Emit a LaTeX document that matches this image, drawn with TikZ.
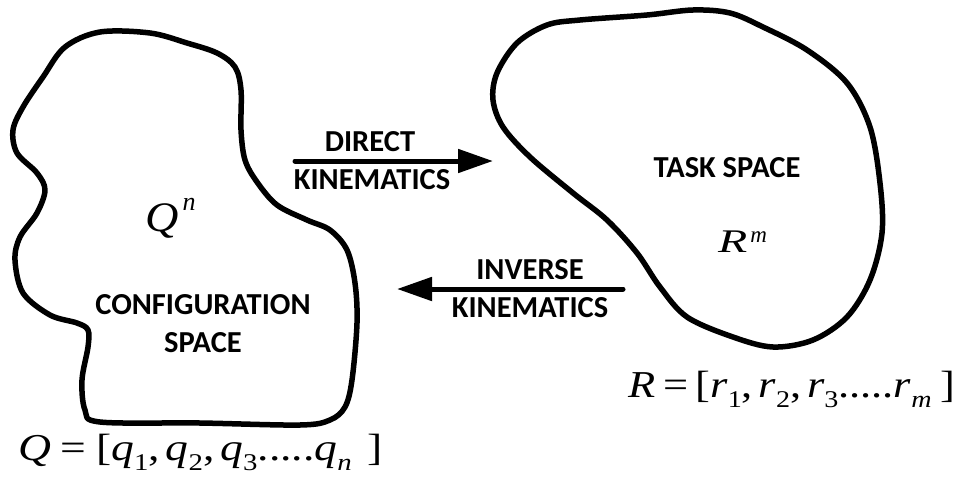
\documentclass[tikz,border=0pt]{standalone}
\usepackage{fontspec}
\usepackage{graphicx}
\newfontfamily\kinfont{Carlito}
\newfontfamily\symfont{Liberation Serif}
\usetikzlibrary{arrows.meta}
\newcommand\lo[1]{\raisebox{-10pt}{\fontsize{24}{24}\selectfont\upshape #1}}

\begin{document}
\begin{tikzpicture}[x=1pt,y=-1pt,
  blob/.style={line width=5.5pt,line join=round},
  kin/.style={font=\kinfont\bfseries\fontsize{30.5}{38}\selectfont,align=center,inner sep=0pt},
  sym/.style={font=\symfont,inner sep=0pt,anchor=base west},
  bigarrow/.style={line width=5pt,line cap=round,-{Triangle[length=35pt,width=23pt]}}]
\useasboundingbox (0,0) rectangle (961,477);

% configuration space
\draw[blob] plot[smooth cycle,tension=0.55] coordinates {
  (65,47) (100,32) (150,33) (187,43) (217,53) (235,67) (241,90) (241,130)
  (245,160) (257,182) (277,205) (307,220) (330,230) (347,250) (355,283)
  (357,323) (352,380) (345,407) (330,420) (300,425) (200,423) (100,422)
  (85,410) (82,380) (88,347) (88,330) (77,323) (50,315) (23,293) (15,260)
  (20,237) (37,213) (45,190) (37,173) (17,153) (13,130) (23,107) (43,77)};

% task space
\draw[blob] plot[smooth cycle,tension=0.55] coordinates {
  (693,10) (647,15) (580,20) (547,25) (517,43) (497,73) (493,100) (503,127)
  (530,157) (573,193) (607,220) (637,253) (660,287) (687,317) (733,337)
  (773,347) (813,340) (847,317) (870,280) (882,233) (880,183) (870,127)
  (847,83) (807,50) (763,27) (730,13)};

\node[kin] (config) at (203,324) {CONFIGURATION\\SPACE};
\node[kin] (task) at (727,168) {TASK SPACE};

\node[sym] (qn) at (145,231) {\fontsize{42}{42}\selectfont\itshape\scalebox{1.1}[1]{Q}\kern4pt\raisebox{21pt}{\fontsize{26}{26}\selectfont n}};
\node[sym] (rm) at (718,252) {\fontsize{33}{33}\selectfont\itshape\scalebox{1.45}[1]{R}\kern3pt\raisebox{10pt}{\fontsize{23}{23}\selectfont m}};

\coordinate (dk-from) at (295,161);
\coordinate (dk-to) at (493,161);
\coordinate (ik-from) at (623,289);
\coordinate (ik-to) at (397,289);
\draw[bigarrow] (dk-from) -- (dk-to);
\draw[bigarrow] (ik-from) -- (ik-to);

\node[kin] (direct) at (370,142) {DIRECT};
\node[kin] (dkin) at (372,180) {KINEMATICS};
\node[kin] (inverse) at (530,270) {INVERSE};
\node[kin] (ikin) at (530,308) {KINEMATICS};

\node[sym] (qvec) at (18,460) {\fontsize{38}{38}\selectfont\scalebox{1.2}[1]{\itshape Q\kern8pt\upshape=\kern8pt[\itshape q\lo{1}\upshape,\kern5pt\itshape q\lo{2}\upshape,\kern5pt\itshape q\lo{3}\upshape.....\itshape q\lo{\itshape n}\kern13pt\upshape]}};
\node[sym] (rvec) at (628,397) {\fontsize{38}{38}\selectfont\scalebox{1.17}[1]{\itshape R\kern7pt\upshape=\kern6pt[\itshape r\lo{1}\upshape,\kern5pt\itshape r\lo{2}\upshape,\kern5pt\itshape r\lo{3}\upshape.....\itshape r\lo{\itshape m}\kern8pt\upshape]}};
\end{tikzpicture}
\end{document}
